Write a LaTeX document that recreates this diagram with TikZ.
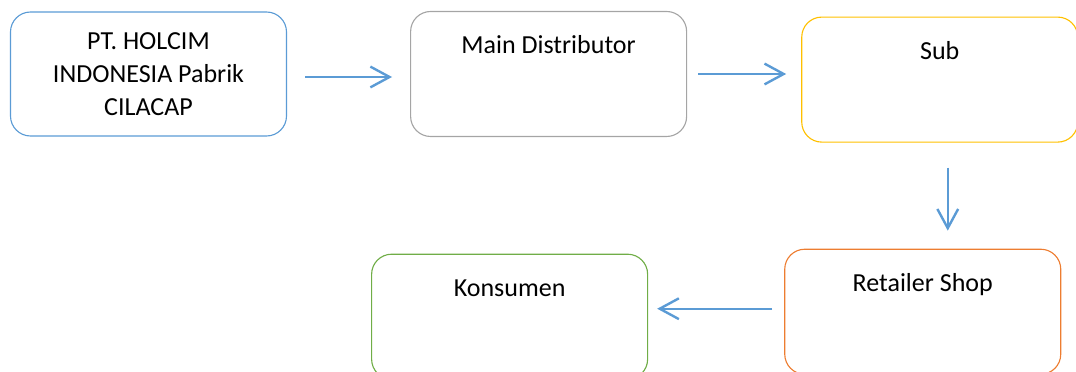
\documentclass[tikz,border=0pt]{standalone}
\usepackage{fontspec}
\setmainfont{Carlito}
\usepackage{xcolor}
\usetikzlibrary{arrows.meta,positioning}
\definecolor{flowBlue}{HTML}{5B9BD5}
\definecolor{flowGray}{HTML}{A5A5A5}
\definecolor{flowYellow}{HTML}{FFC000}
\definecolor{flowOrange}{HTML}{ED7D31}
\definecolor{flowGreen}{HTML}{70AD47}
\tikzset{
    flowBox/.style={
        draw,
        rounded corners=5mm,
        line width=0.8pt,
        inner sep=0pt,
        minimum width=6.9cm,
        font=\fontsize{18.5}{23.5}\selectfont
    },
    flowTop/.style={
        flowBox,
        text height=1.05cm,
        text depth=2.075cm
    },
    flowArrow/.style={
        -{Straight Barb[length=4.8mm,width=5.2mm]},
        line width=1.7pt,
        draw=flowBlue
    }
}
\begin{document}
\begin{tikzpicture}
        \clip (0,0) rectangle (26.9,9.3);
        \node[flowBox,draw=flowBlue,minimum height=3.1cm,align=center] (pabrik) at (3.7125,7.45) {PT. HOLCIM\\INDONESIA Pabrik\\CILACAP};
        \node[flowTop,draw=flowGray,right=3.075cm of pabrik] (main) {Main Distributor};
        \node[flowTop,draw=flowYellow,right=2.85cm of main,yshift=-0.14cm] (sub) {Sub};
        \node[flowTop,draw=flowOrange,below=2.65cm of sub,xshift=-0.425cm] (retail) {Retailer Shop};
        \node[flowTop,draw=flowGreen,left=3.4cm of retail,yshift=-0.125cm] (konsumen) {Konsumen};

        \draw[flowArrow,shorten <=0.45cm,shorten >=0.45cm] ([yshift=-0.075cm]pabrik.east) -- ([yshift=-0.075cm]pabrik.east -| main.west);
        \draw[flowArrow,shorten <=0.275cm,shorten >=0.375cm] (main.east) -- (main.east -| sub.west);
        \draw[flowArrow,shorten <=0.625cm,shorten >=0.45cm] ([xshift=0.2cm]sub.south) -- ([xshift=0.2cm]sub.south |- retail.north);
        \draw[flowArrow,shorten <=0.3cm,shorten >=0.225cm] ([yshift=0.075cm]retail.west) -- ([yshift=0.075cm]retail.west -| konsumen.east);
    \end{tikzpicture}
\end{document}
